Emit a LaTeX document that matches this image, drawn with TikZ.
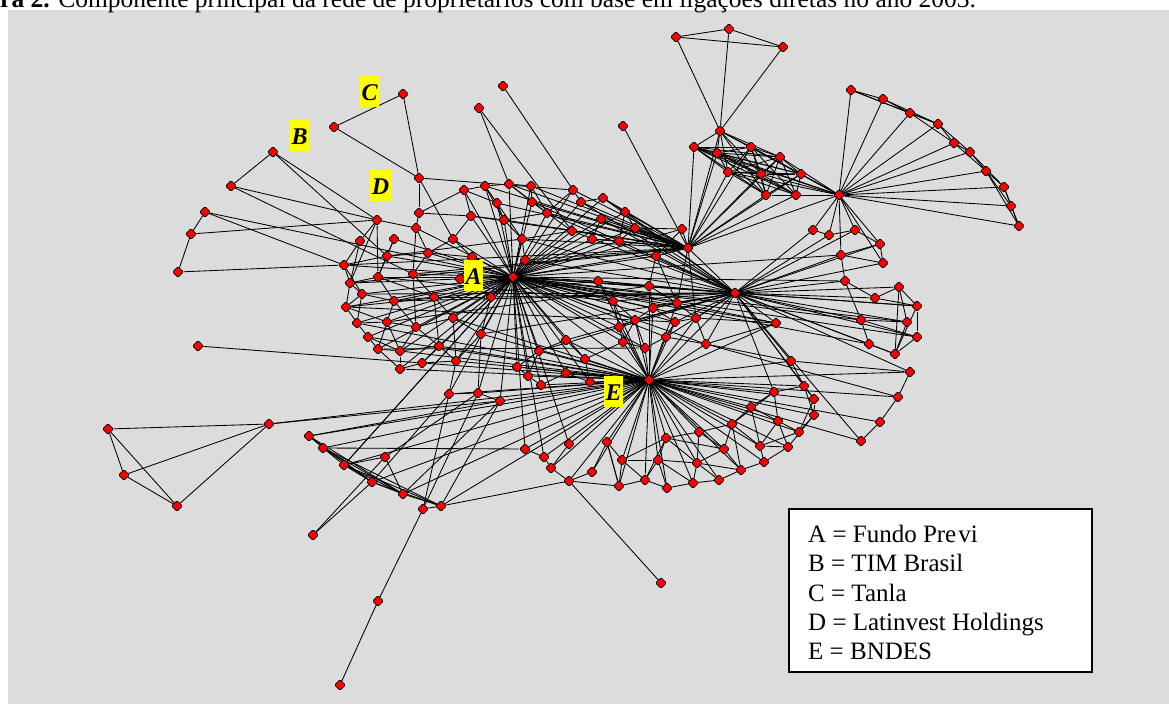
\documentclass[tikz,border=0pt]{standalone}
\usepackage{fontspec}
\setmainfont{Liberation Serif}
\usetikzlibrary{shapes.geometric}
\pgfdeclarelayer{back}
\pgfdeclarelayer{bg}
\pgfsetlayers{back,bg,main}
\definecolor{panel}{HTML}{DCDCDC}
\definecolor{dotred}{HTML}{FF0000}
\definecolor{lblyellow}{HTML}{FFFF00}
\begin{document}
\begin{tikzpicture}[x=1pt,y=-1pt,
  dot/.style={diamond,draw=black,fill=dotred,line width=0.6pt,inner sep=0pt,minimum size=11pt,rounded corners=1.2pt},
  edge/.style={draw=black,line width=0.85pt},
  lbl/.style={fill=lblyellow,font=\fontsize{24}{24}\selectfont\bfseries\itshape,inner xsep=1.5pt,inner ysep=0pt,minimum height=31pt,text height=17pt,text depth=0pt},
  legtext/.style={anchor=base west,inner sep=0pt,font=\fontsize{25}{25}\selectfont}]
\useasboundingbox (0,0) rectangle (1169,704);
\begin{pgfonlayer}{back}
\fill[panel] (8,10) rectangle (1169,704);
\end{pgfonlayer}
\node[anchor=base west,inner sep=0pt,font=\fontsize{25.5}{25.5}\selectfont] (title) at (0,7) {\textbf{ra 2.} Componente principal da rede de proprietários com base em ligações diretas no ano 2003.};
% nodes
\foreach \n/\x/\y in {L1/273/152, L2/231/186, L3/205/212, L4/191/234, L5/178/272, L6/198/346, L7/108/429, L8/269/424, L9/124/475, L10/177/506, nB/334/127, nC/403/94, t1/503/86, t2/479/108,
nD/419/178, p1/464/190, p2/485/186, p3/509/184, p4/531/186, p5/573/190, p6/581/202, p7/497/203, p8/532/202, p9/419/213, p10/471/216, p11/504/220, p12/547/213, p13/377/220, p14/416/228, p15/572/231, p16/360/241, p17/394/239, p18/453/239, p19/522/239,
q1/676/37, q2/729/29, q3/783/47, q4/623/126, q5/720/131, q6/694/147, q7/751/147, q8/717/153, q9/780/157, q10/728/172, q11/761/174, q12/801/174, q13/766/195, q14/796/195, H3/839/195, q15/851/90, q16/682/229, H2/688/248, q17/813/230, q18/829/235, q19/855/230, q21/603/198, q22/625/212, q23/601/219, q24/635/228, q25/592/239, q26/619/241,
r1/883/99, r2/910/113, r3/938/124, r4/954/143, r5/970/152, r6/986/171, r7/1004/187, r8/1011/206, r9/1019/226,
s1/344/265, s2/387/256, s3/428/253, s4/472/257, s5/525/260, s6/350/283, s7/378/277, s8/413/274, s9/460/279, HA/513/277, s10/362/294, s11/394/301, s12/434/297, s13/491/297, s14/346/307, s15/357/323, s16/387/322, s17/416/327, s18/453/318, s19/368/337, s20/481/334, s21/378/349, s22/400/351, s23/439/346, s24/539/351, s25/566/340, s26/585/359, s27/400/369, s28/422/363, s29/456/361, s30/517/367, s31/528/376, s32/566/373, s33/541/385, s34/590/382, s35/449/394, s36/478/393, s37/500/401, s38/309/436, s39/323/448, s40/385/457, s41/344/465, s42/525/449, s43/569/444, s44/544/457, s45/551/468,
u1/656/256, u3/880/244, u4/841/255, u5/598/281, u6/649/286, H4/735/293, u7/845/281, u8/875/298, u9/613/301, u10/653/308, u11/677/303, u12/635/320, u13/675/322, u14/696/318, u15/776/323, u16/861/320, u17/619/327, u18/623/342, u19/666/337, u20/706/344, u21/645/348, u22/869/344, u23/791/361, HE/649/380, u24/804/386, u25/774/392, u26/814/399, u27/751/407, u28/814/415, u29/778/421, u30/880/422, u31/732/424, u32/699/432, u33/799/432, u34/666/438, u35/607/442, u36/861/441, u37/760/446, u38/788/447, u39/724/449, u40/622/460, u41/658/460, u42/697/463, u43/764/462, u44/741/470, u45/592/472,
v1/883/263, v2/899/287, v3/917/306, v4/907/322, v5/917/337, v6/895/354, v7/910/372, v8/898/397,
w1/372/482, w2/403/494, w3/423/509, w4/441/506, w5/313/535, w6/378/601, w7/340/685, w8/569/481, w10/619/486, w11/645/480, w12/667/488, w13/693/483, w14/719/480, w15/661/583}
  \node[dot] (\n) at (\x,\y) {};
% edges
\begin{pgfonlayer}{bg}
\foreach \b in {p1,p2,p3,p4,p5,p6,p7,p8,p10,p11,p12,p15,p17,p18,p19,s1,s2,s3,s4,s5,s6,s7,s8,s9,s10,s11,s12,s13,s14,s15,s16,s17,s18,s19,s20,s21,s22,s23,s24,s25,s26,s27,s28,s29,s30,s31,s33,s35,s36,s37,s41,s42,s43,s44,u5,u9,u6,u12,u17,u18,u10,H4,H2,q21,q22,q23,q25,q26,u15,u16,u7,u4,v4,HE,u13,u19,u11,u14,u20,u21,u1,q24,q16,v3,v5,u22,s32,s34}
  \draw[edge] (HA) -- (\b);
\foreach \b in {s24,s25,s26,s30,s31,s32,s33,s34,s35,s36,s37,s42,s43,s44,s45,s38,s39,s41,w1,w2,w4,w8,w10,w11,w12,w13,w14,u9,u10,u11,u12,u13,u14,u17,u18,u19,u20,u21,u24,u25,u26,u27,u28,u29,u31,u32,u33,u34,u35,u37,u38,u39,u40,u41,u42,u43,u44,u45,u23,u15,v8,u30,H4,u6,u5,s29,s28,s20,s23,s18,u36,v7}
  \draw[edge] (HE) -- (\b);
\foreach \b in {u1,u3,u4,u7,u8,u16,u22,v1,v2,v3,v4,v5,v6,v7,q17,q18,q19,u6,u10,u11,u13,u14,u15,u20,u23,u36,H2,u12,u5,s5,p12,p15,q24,s25,u19,u9,u24,u25,u26,s13,s20,p19,s24,p8,q22}
  \draw[edge] (H4) -- (\b);
\foreach \b in {q4,q5,q6,q8,q10,q13,q16,u1,p4,p5,p6,p8,p12,p15,p19,q21,q22,q23,q24,q25,q26,u11,u14,s5,p3,p11,q7,q11,p2,q9,q12,q14,p10,p7}
  \draw[edge] (H2) -- (\b);
\foreach \b in {r1,r2,r3,r4,r5,r6,r7,r8,r9,q15,q5,q6,q7,q8,q9,q10,q11,q12,q13,q14,q17,q18,q19,u3,u4,H2,v1}
  \draw[edge] (H3) -- (\b);
\foreach \a/\b in {nB/nC, nC/nD, nB/nD, L1/L2, L3/L4, L4/L5, L1/p13, L1/s2, L2/p13, L2/s8, L3/HA, L3/s1, L4/p13, L5/s1, L6/s28, L7/L8, L7/L9, L7/L10, L9/L8, L10/L8, L9/L10, L8/HE, L8/s37, t1/p5, t2/p3, t2/p15,
nD/p9, nD/p5, nD/p18, p9/p14, p9/p1, p9/p10, p13/p16, p13/s6, p13/s7, p13/p14, p14/HA, p14/s3,
p10/p11, p7/p11, p1/p10, p2/p7, p3/p8, p4/p8, p8/p12, p5/p6, p12/p15, p19/p15, p11/p19, p7/p19, p1/p2, p2/p3, p3/p4, p1/p7, p10/p18, p11/p12, p4/p12, p3/p12, p5/p12, p2/p11,
q1/q2, q1/q3, q2/q3, q1/q5, q2/q5, q3/q5,
q5/q6, q5/q7, q5/q8, q6/q7, q6/q8, q6/q9, q6/q10, q6/q11, q6/q13, q7/q9, q7/q11, q7/q8, q8/q10, q8/q11, q8/q12, q8/q13, q9/q12, q9/q11, q10/q11, q10/q13, q10/q14, q11/q12, q11/q13, q11/q14, q12/q14, q13/q14, q6/q14, q8/q14, q7/q12, q9/q14,
q5/q10, q5/q13, q6/q12, q7/q10, q7/q13, q7/q14, q8/q9, q9/q10, q9/q13, q10/q12, q12/q13, q5/q9, q5/q11,
q15/r1, r1/r2, r2/r3, r3/r4, r5/r6, r6/r7, r7/r8, r8/r9, q15/r2, r1/r3, r2/r4, r6/r8, r7/r9, r5/r7, r6/r9, r4/r5, q15/r3, r3/r5, r4/r6,
u3/v1, u3/u4, u4/v1, u7/u16, u16/u22, u7/u8, u8/v3, u16/v4, u16/v5, v2/v3, v2/v4, v2/v6, v3/v5, v4/v6, v5/v6, u22/v6, v7/v8, v8/u30, u23/v7, u20/v8, q17/q18, q18/q19, q19/u3, u4/u7, v3/v6, u8/v2,
u24/u26, u24/u25, u25/u27, u26/u28, u27/u31, u28/u33, u29/u33, u29/u38, u31/u32, u31/u39, u32/u34, u33/u37, u37/u43, u38/u43, u39/u44, u39/u42, u40/u35, u40/w10, u41/u34, u41/w11, u42/w13, u43/u44, u44/w14, w10/w11, w11/w12, w12/w13, w13/w14, u40/u41, u42/u41, w12/u41, w10/u35, u35/u45, u27/u29, u31/u37, u32/u42, u34/u39, u25/u29, u23/u24, u23/u20, u36/u30,
u32/u39, u34/u42, u37/u38, u27/u37, u31/u44, u42/w14, u41/w13, u40/w11, u35/w10, u26/u33, u24/u28, u25/u31, u29/u37, u28/u38, u42/u44, w11/u34, u40/u34,
s38/s39, s39/s41, s41/w1, w1/w2, w2/w4, w3/w4, w3/w6, w6/w7, w4/w8, w8/w15, w8/s45, w5/w1, w5/s40, s40/s41, s40/w2, w1/s35, w4/s37, s38/s37, s39/s42, s40/s36, s41/w2, s41/w4, w1/w4, s39/w1, s39/w2, w3/s36, s41/HA, s44/s45, s42/s44, s43/s45, w8/w10, u45/w8, s38/w1, s38/w2, s39/w4, w2/s37, w3/s35,
s1/s6, s1/s2, s6/s10, s10/s14, s14/s15, s15/s19, s19/s21, s21/s22, s22/s27, s27/s28, s2/s7, s7/s11, s11/s16, s16/s17, s17/s23, s23/s29, s3/s8, s8/s12, s12/s18, s18/s20, s4/s9, s9/s13, s12/s23, s16/s22, s10/s11, s6/s7, s14/s16, s19/s22, s21/s27, s28/s29, s35/s36, s36/s37, s29/s35, s20/s36, s13/s20, s11/s17, s1/s10, p16/s1, p16/s6, p17/s2, p17/s7, p14/s8, s3/p18, s4/p18, s5/p19, s2/s3, s3/s4,
s7/s12, s8/s17, s11/s12, s15/s16, s17/s18, s22/s23, s23/s28, s20/s29, s12/s13, s6/s14, s10/s15, s16/s21, s17/s22, s18/s29,
s1/H2, s10/H4, s14/u12, s15/HE, s19/HE, s21/u21, s22/HE, s27/HE, s16/u6, s11/H4, s6/H2, s7/u9, s14/u5, s2/p19, s8/H2,
u5/u9, u9/u17, u17/u18, u18/u21, u12/u13, u10/u11, u11/u14, u13/u19, u19/u20, u6/u10, u10/u13, u14/u20, u12/u21, u1/u6, u1/u11, q16/u1, q16/q24, u5/u6, u9/u12, u17/u12, s26/u18, s34/s26, s32/s34, s25/s26, s24/s31, s30/s31, s31/s33, s32/s33, s24/s25, s30/s24,
u10/u12, u13/u14, u19/u21, u6/u11, u14/u15, u11/u15, u20/u15, u12/u18,
q21/q22, q22/q24, q23/q25, q25/q26, p6/q21, q21/H4, q23/H4, p6/H4, q22/q26, q24/q26}
  \draw[edge] (\a) -- (\b);
\end{pgfonlayer}
% labels
\node[lbl] (labA) at (473.5,275.5) {A};
\node[lbl] (labB) at (299.5,135.5) {B};
\node[lbl] (labC) at (369.5,91.5) {C};
\node[lbl] (labD) at (380.5,185.5) {D};
\node[lbl] (labE) at (613.5,391.5) {E};
% legend
\node[draw=black,line width=1.5pt,fill=white,minimum width=303pt,minimum height=163pt,inner sep=0pt,anchor=north west] (legend) at (788,508) {};
\node[legtext] (legA) at (808,542) {A = Fundo Pre\kern2pt vi};
\node[legtext] (legB) at (808,571) {B = TIM Brasil};
\node[legtext] (legC) at (808,601) {C = Tanla};
\node[legtext] (legD) at (808,630) {D = Latinvest Holdings};
\node[legtext] (legE) at (808,659) {E = BNDES};
\end{tikzpicture}
\end{document}
